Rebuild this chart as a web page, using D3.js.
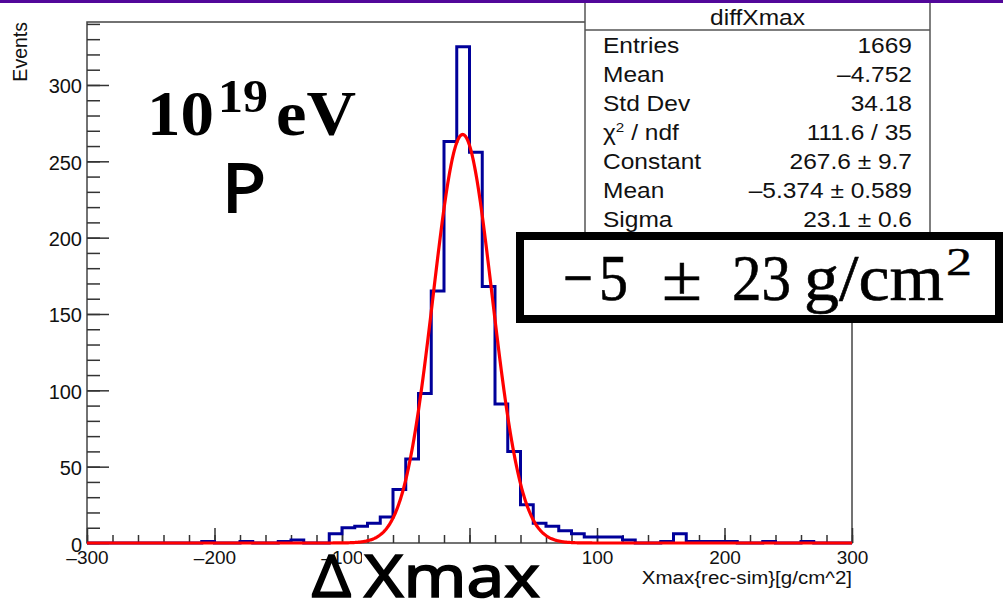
<!DOCTYPE html>
<html>
<head>
<meta charset="utf-8">
<script src="https://cdn.jsdelivr.net/npm/d3@7"></script>
<style>
  html, body { margin: 0; padding: 0; background: #fff; }
  #svg-container { width: 1003px; height: 605px; overflow: hidden; }
  svg { display: block; }
</style>
</head>
<body>
<div id="svg-container"></div>
<script>
////////////////////////////////////////////////////////////////////
////////////////////////////  Data  ////////////////////////////////
// bin edges -300..300, width 10 ; counts
const binEdges = d3.range(-300, 301, 10);
const counts = [
  0, 0, 0, 0, 0, 0, 0, 0, 0, 1,        // -300 .. -210
  0, 0, 1, 0, 0, 1, 2, 0, 0, 6,        // -200 .. -110
  10, 11, 13, 17, 35, 55, 98, 165, 263, 325, // -100 .. -10
  256, 168, 91, 60, 25, 13, 11, 8, 6, 4,     // 0 .. 90
  4, 4, 2, 0, 0, 1, 6, 1, 1, 1,        // 100 .. 190
  1, 0, 0, 1, 0, 0, 1, 0, 0, 0,        // 200 .. 290
];

// gaus fit parameters
const fitConstant = 267.6;
const fitMean = -5.374;
const fitSigma = 23.1;

const xTicks = [-300, -200, -100, 0, 100, 200, 300];
const yTicks = [0, 50, 100, 150, 200, 250, 300];
const yMax = 341.25; // 1.05 * max bin

const statTitle = "diffXmax";
const statLabels = ["Entries", "Mean", "Std Dev", "chi2 / ndf", "Constant", "Mean", "Sigma"];
const statValues = ["1669", "\u20134.752", "34.18", "111.6 / 35", "267.6 \u00b1 9.7", "\u20135.374 \u00b1 0.589", "23.1 \u00b1 0.6"];

////////////////////////////////////////////////////////////////////
////////////////////////////  Init  ////////////////////////////////
const width = 1003, height = 605;
const svg = d3.select("#svg-container").append("svg")
  .attr("width", width).attr("height", height);

const rootFont = "'Liberation Sans', Arial, Helvetica, sans-serif";

const x = d3.scaleLinear().domain([-300, 300]).range([87, 852]);
const y = d3.scaleLinear().domain([0, yMax]).range([543, 22]);

////////////////////////////////////////////////////////////////////
////////////////////////////  Axes  ////////////////////////////////
// frame
svg.append("rect")
  .attr("x", x(-300)).attr("y", y(yMax))
  .attr("width", x(300) - x(-300)).attr("height", y(0) - y(yMax))
  .attr("fill", "none").attr("stroke", "#444").attr("stroke-width", 1.5);

// y axis, ticks point inward
const yMinor = svg.append("g").attr("transform", `translate(${x(-300)},0)`)
  .call(d3.axisLeft(y).tickValues(d3.range(0, yMax, 10)).tickSize(-13).tickFormat(""));
const yMajor = svg.append("g").attr("transform", `translate(${x(-300)},0)`)
  .call(d3.axisLeft(y).tickValues(yTicks).tickSize(-22).tickPadding(5));

// x axis
const xMinor = svg.append("g").attr("transform", `translate(0,${y(0)})`)
  .call(d3.axisBottom(x).tickValues(d3.range(-300, 301, 20)).tickSize(-8).tickFormat(""));
const xMajor = svg.append("g").attr("transform", `translate(0,${y(0)})`)
  .call(d3.axisBottom(x).tickValues(xTicks).tickSize(-15).tickPadding(8)
    .tickFormat((d) => (d < 0 ? "\u2013" + Math.abs(d) : d)));

[yMinor, yMajor, xMinor, xMajor].forEach((g) => {
  g.select(".domain").remove();
  g.selectAll("line").attr("stroke", "#333").attr("stroke-width", 1.5);
});
yMajor.selectAll("text").attr("font-family", rootFont).attr("font-size", 20)
  .attr("fill", "#111").attr("dy", "0.4em");
xMajor.selectAll("text").attr("font-family", rootFont).attr("font-size", 19)
  .attr("fill", "#111");

// axis titles
svg.append("text")
  .attr("transform", `translate(27,${y(yMax)}) rotate(-90)`)
  .attr("text-anchor", "end")
  .attr("font-family", rootFont).attr("font-size", 19.5).attr("fill", "#111")
  .text("Events");

svg.append("text")
  .attr("transform", `translate(${x(300)},584) scale(1.08,1)`)
  .attr("text-anchor", "end")
  .attr("font-family", rootFont).attr("font-size", 19).attr("fill", "#111")
  .text("Xmax{rec-sim}[g/cm^2]");

////////////////////////////////////////////////////////////////////
////////////////////////////  Histogram  ///////////////////////////
const bins = counts.map((c, i) => ({ x0: binEdges[i], x1: binEdges[i + 1], n: c }));

let pathD = `M${x(bins[0].x0)},${y(0)}`;
bins.forEach((b) => {
  pathD += `L${x(b.x0)},${y(b.n)}L${x(b.x1)},${y(b.n)}`;
});
pathD += `L${x(300)},${y(0)}`;

svg.append("path")
  .attr("d", pathD)
  .attr("fill", "none")
  .attr("stroke", "#00009a")
  .attr("stroke-width", 3)
  .attr("stroke-linejoin", "miter");

// gaussian fit
const gaus = (v) => fitConstant * Math.exp(-0.5 * Math.pow((v - fitMean) / fitSigma, 2));
const fitLine = d3.line().x((d) => x(d)).y((d) => y(gaus(d)));

svg.append("path")
  .datum(d3.range(-300, 300.01, 0.5))
  .attr("d", fitLine)
  .attr("fill", "none")
  .attr("stroke", "#ff0000")
  .attr("stroke-width", 3.2)
  .attr("stroke-linejoin", "round");

////////////////////////////////////////////////////////////////////
////////////////////////////  Stats box  ///////////////////////////
const stats = svg.append("g");
stats.append("rect")
  .attr("x", 585).attr("y", -2).attr("width", 345).attr("height", 245)
  .attr("fill", "#fff").attr("stroke", "#555").attr("stroke-width", 1.5);
stats.append("line")
  .attr("x1", 585).attr("x2", 930).attr("y1", 30).attr("y2", 30)
  .attr("stroke", "#555").attr("stroke-width", 1.5);

const statSize = 21.5, statSx = 1.14;
stats.append("text")
  .attr("transform", `translate(757.5,25) scale(${statSx},1)`)
  .attr("text-anchor", "middle")
  .attr("font-family", rootFont).attr("font-size", statSize).attr("fill", "#111")
  .text(statTitle);

statLabels.forEach((lab, i) => {
  const base = 53 + i * 29;
  const t = stats.append("text")
    .attr("transform", `translate(603,${base}) scale(${statSx},1)`)
    .attr("font-family", rootFont).attr("font-size", statSize).attr("fill", "#111");
  if (lab.startsWith("chi2")) {
    t.append("tspan").text("\u03c7");
    t.append("tspan").attr("font-size", statSize * 0.62).attr("dy", -8).text("2");
    t.append("tspan").attr("dy", 8).text(" / ndf");
  } else {
    t.text(lab);
  }
  stats.append("text")
    .attr("transform", `translate(912,${base}) scale(${statSx},1)`)
    .attr("text-anchor", "end")
    .attr("font-family", rootFont).attr("font-size", statSize).attr("fill", "#111")
    .text(statValues[i]);
});

////////////////////////////////////////////////////////////////////
////////////////////////////  Annotations  /////////////////////////
const serif = "'Liberation Serif', 'DejaVu Serif', serif";
const sans = "'Noto Sans', 'Open Sans', sans-serif";

// small helper: text squeezed to a given width, optional outline to thicken
function fitText(str, px, py, w, size, family, weight, thick) {
  return svg.append("text").attr("x", px).attr("y", py)
    .attr("font-family", family).attr("font-size", size)
    .attr("font-weight", weight || "normal")
    .attr("stroke", thick ? "#000" : "none")
    .attr("stroke-width", thick || 0)
    .attr("textLength", w).attr("lengthAdjust", "spacingAndGlyphs")
    .text(str);
}

// energy label
fitText("10", 147, 135, 67, 63, serif, "bold");
fitText("19", 218, 112, 50, 47, serif, "bold");
fitText("eV", 276, 135, 80, 63, serif, "bold");

fitText("P", 222, 212, 44, 68, sans, "normal", 1.8);

// delta xmax label (white box hides the 0 label)
svg.append("rect").attr("x", 362).attr("y", 547).attr("width", 183).attr("height", 58)
  .attr("fill", "#fff");
fitText("\u0394", 312, 597, 39, 59, sans, "normal", 1.6);
fitText("Xmax", 364, 597, 176, 59, sans, "normal", 1.6);

// result box
svg.append("rect")
  .attr("x", 520).attr("y", 236).attr("width", 479).attr("height", 83)
  .attr("fill", "#fff").attr("stroke", "#000").attr("stroke-width", 8);

fitText("\u2212", 563, 300, 30, 66, serif, "normal", 0.6);
fitText("5", 599, 300, 29, 66, serif, "normal", 0.6);
fitText("\u00b1", 662, 300, 40, 66, serif, "normal", 0.6);
fitText("23", 732, 300, 59, 66, serif, "normal", 0.6);
fitText("g/cm", 804, 300, 140, 66, serif, "normal", 0.6);
fitText("2", 946, 275, 26, 40, serif, "normal", 0.4);

// purple strip on top
svg.append("rect").attr("x", 0).attr("y", 0).attr("width", width).attr("height", 3)
  .attr("fill", "#52079a");
</script>
</body>
</html>
